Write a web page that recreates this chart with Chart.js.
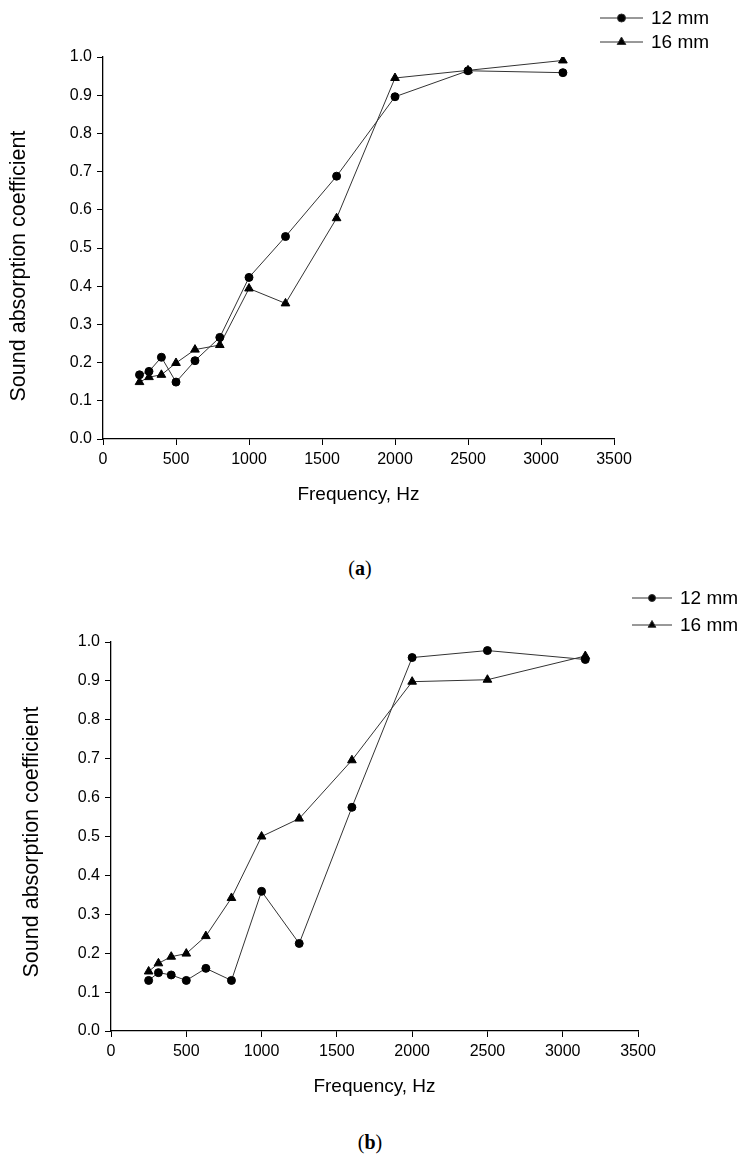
<!DOCTYPE html>
<html>
<head>
<meta charset="utf-8">
<script src="https://cdn.jsdelivr.net/npm/chart.js@4.4.0/dist/chart.umd.min.js"></script>
<style>
  body { margin: 0; background: #fff; width: 742px; height: 1166px; position: relative; overflow: hidden; }
  canvas { position: absolute; left: 0; }
  .cap { position: absolute; font-family: "Liberation Serif", "DejaVu Serif", serif; font-size: 20px; color: #000; transform: translate(-50%, -50%); }
</style>
</head>
<body>
<canvas id="chartA" width="742" height="520" style="top:0px"></canvas>
<div class="cap" style="left:360px;top:568px">(<b>a</b>)</div>
<canvas id="chartB" width="742" height="530" style="top:580px"></canvas>
<div class="cap" style="left:370px;top:1142px">(<b>b</b>)</div>
<script>
"use strict"

// frequencies, Hz
const freqs = [250, 315, 400, 500, 630, 800, 1000, 1250, 1600, 2000, 2500, 3150];

// (a)
const a12 = [0.168, 0.177, 0.214, 0.149, 0.205, 0.266, 0.423, 0.530, 0.688, 0.896, 0.964, 0.959];
const a16 = [0.149, 0.162, 0.168, 0.199, 0.234, 0.246, 0.394, 0.355, 0.578, 0.945, 0.965, 0.991];

// (b)
const b12 = [0.130, 0.150, 0.144, 0.130, 0.161, 0.130, 0.359, 0.225, 0.575, 0.960, 0.978, 0.955];
const b16 = [0.153, 0.174, 0.191, 0.199, 0.244, 0.342, 0.500, 0.546, 0.696, 0.898, 0.903, 0.964];

const seriesLabels = ['12 mm', '16 mm'];
const xTitle = 'Frequency, Hz';
const yTitle = 'Sound absorption coefficient';

const SANS = '"Liberation Sans", Arial, sans-serif';

function toPoints(ys) {
  return freqs.map((f, i) => ({x: f, y: ys[i]}));
}

// legend drawn as line + marker + text, like the original figure
const lineLegend = {
  id: 'lineLegend',
  afterDraw(chart, args, opts) {
    const ctx = chart.ctx;
    ctx.save();
    chart.data.datasets.forEach((ds, i) => {
      let y = opts.ys[i];
      ctx.strokeStyle = '#333';
      ctx.lineWidth = 1;
      ctx.beginPath();
      ctx.moveTo(opts.x0, y);
      ctx.lineTo(opts.x1, y);
      ctx.stroke();
      Chart.helpers.drawPoint(ctx, {
        pointStyle: ds.pointStyle,
        radius: opts.radius[i],
        borderWidth: 1
      }, (opts.x0 + opts.x1) / 2, y);
      ctx.fillStyle = '#000';
      ctx.font = '19px ' + SANS;
      ctx.textBaseline = 'middle';
      ctx.textAlign = 'left';
      ctx.fillText(ds.label, opts.textX, y + 1);
    });
    ctx.restore();
  }
};

// y title sits a bit lower than the axis middle in the original
const sideTitle = {
  id: 'sideTitle',
  afterDraw(chart, args, opts) {
    const ctx = chart.ctx;
    ctx.save();
    ctx.translate(opts.x, opts.y);
    ctx.rotate(-Math.PI / 2);
    ctx.fillStyle = '#000';
    ctx.font = '21.5px ' + SANS;
    ctx.textAlign = 'center';
    ctx.textBaseline = 'middle';
    ctx.fillText(opts.text, 0, 0);
    ctx.restore();
  }
};

function makeChart(id, s12, s16, cfg) {
  let ctx = document.getElementById(id).getContext('2d');
  return new Chart(ctx, {
    type: 'line',
    data: {
      datasets: [{
        label: seriesLabels[0],
        data: toPoints(s12),
        borderColor: '#333',
        borderWidth: 1,
        pointStyle: 'circle',
        pointRadius: cfg.circleR,
        pointBackgroundColor: '#000',
        pointBorderColor: '#000',
        tension: 0
      }, {
        label: seriesLabels[1],
        data: toPoints(s16),
        borderColor: '#333',
        borderWidth: 1,
        pointStyle: 'triangle',
        pointRadius: cfg.triR,
        pointBackgroundColor: '#000',
        pointBorderColor: '#000',
        tension: 0
      }]
    },
    options: {
      responsive: false,
      animation: false,
      events: [],
      layout: {
        padding: {left: 0, top: cfg.top, right: cfg.right, bottom: cfg.bottom}
      },
      plugins: {
        legend: {display: false},
        tooltip: {enabled: false},
        lineLegend: cfg.legend,
        sideTitle: {x: cfg.yTitleX, y: cfg.yTitleY, text: yTitle}
      },
      scales: {
        x: {
          type: 'linear',
          min: 0,
          max: 3500,
          afterFit(scale) { scale.height = 70; },
          ticks: {
            stepSize: 500,
            color: '#000',
            padding: 5,
            maxRotation: 0,
            font: {family: SANS, size: 16},
            callback: v => String(v)
          },
          grid: {drawOnChartArea: false, drawTicks: true, tickLength: 6, color: '#000'},
          border: {display: true, color: '#000', width: 1.3},
          title: {
            display: true,
            text: xTitle,
            color: '#000',
            padding: {top: 0, bottom: 3},
            font: {family: SANS, size: 19}
          }
        },
        y: {
          min: 0,
          max: 1,
          afterFit(scale) { scale.width = cfg.axisX; },
          ticks: {
            stepSize: 0.1,
            color: '#000',
            padding: 5,
            font: {family: SANS, size: 16},
            callback: v => v.toFixed(1)
          },
          grid: {drawOnChartArea: false, drawTicks: true, tickLength: 6, color: '#000'},
          border: {display: true, color: '#000', width: 1.3}
        }
      }
    },
    plugins: [lineLegend, sideTitle]
  });
}

// canvas A: chart area 103..614 x 57..439
makeChart('chartA', a12, a16, {
  axisX: 103, top: 57, right: 128, bottom: 11,
  circleR: 4, triR: 5,
  yTitleX: 19, yTitleY: 266,
  legend: {x0: 600, x1: 643, textX: 651, ys: [18, 42], radius: [4, 5]}
});

// canvas B (top 580): chart area 111..638 x 62..451
makeChart('chartB', b12, b16, {
  axisX: 111, top: 62, right: 104, bottom: 9,
  circleR: 4, triR: 5,
  yTitleX: 32, yTitleY: 262,
  legend: {x0: 632, x1: 672, textX: 680, ys: [18, 45], radius: [3.5, 4.5]}
});
</script>
</body>
</html>
